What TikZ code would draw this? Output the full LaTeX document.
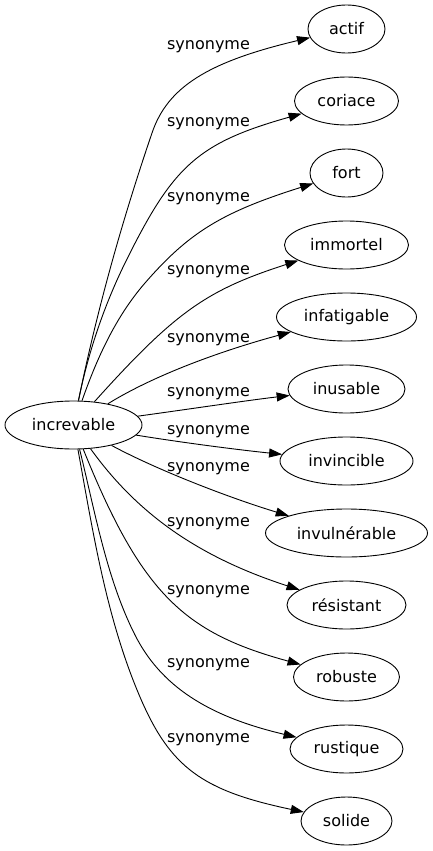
\documentclass[tikz,border=0pt]{standalone}
\usepackage{fontspec}
\setmainfont{DejaVu Sans}
\usetikzlibrary{shapes.geometric,arrows.meta}
\begin{document}
\begin{tikzpicture}[x=1bp,y=-1bp,
  word/.style={draw, ellipse, line width=0.9bp, minimum height=48bp, inner sep=0pt,
    font=\fontsize{16bp}{19bp}\selectfont},
  lab/.style={anchor=base, inner sep=0pt, font=\fontsize{16bp}{19bp}\selectfont},
  syn/.style={line width=0.9bp, -{Triangle[length=13bp,width=9bp]}}]
\useasboundingbox (0,0) rectangle (432,851);
% nodes
\node[word, minimum width=137bp] (inc) at (73.5,425) {increvable};
\node[word, minimum width=77bp]  (actif) at (346.5,29) {actif};
\node[word, minimum width=104bp] (coriace) at (346.5,101) {coriace};
\node[word, minimum width=73bp]  (fort) at (346.5,173) {fort};
\node[word, minimum width=124bp] (immortel) at (346.5,245) {immortel};
\node[word, minimum width=140bp] (infatigable) at (346.5,317) {infatigable};
\node[word, minimum width=117bp] (inusable) at (346.5,389) {inusable};
\node[word, minimum width=133bp] (invincible) at (346.5,461) {invincible};
\node[word, minimum width=162bp] (invul) at (346.5,533) {invulnérable};
\node[word, minimum width=119bp] (resistant) at (346.5,605) {résistant};
\node[word, minimum width=106bp] (robuste) at (346.5,677) {robuste};
\node[word, minimum width=113bp] (rustique) at (346.5,749) {rustique};
\node[word, minimum width=91bp]  (solide) at (346.5,821) {solide};
% labels
\node[lab] (l1) at (208.5,49.5) {synonyme};
\node[lab] (l2) at (208.5,126.5) {synonyme};
\node[lab] (l3) at (208.5,201.5) {synonyme};
\node[lab] (l4) at (208.5,274.5) {synonyme};
\node[lab] (l5) at (208.5,342.5) {synonyme};
\node[lab] (l6) at (208.5,396.5) {synonyme};
\node[lab] (l7) at (208.5,434.5) {synonyme};
\node[lab] (l8) at (208.5,471.5) {synonyme};
\node[lab] (l9) at (208.5,526.5) {synonyme};
\node[lab] (l10) at (208.5,594.5) {synonyme};
\node[lab] (l11) at (208.5,667.5) {synonyme};
\node[lab] (l12) at (208.5,742.5) {synonyme};
% knees
\coordinate (k1) at (152,133);
\coordinate (k2) at (128,257);
\coordinate (k3) at (145,283);
\coordinate (k11) at (135,635);
\coordinate (k12) at (140,697);
% edges
\draw[syn] (inc) .. controls (97,310) and (122,221) .. (k1) .. controls (167.4,87.5) and (207,62) .. (actif);
\draw[syn] (inc) .. controls (88.5,351) and (105,302.6) .. (k2) .. controls (174,165) and (199,142.6) .. (coriace);
\draw[syn] (inc) .. controls (96.7,358.8) and (115.5,317) .. (k3) .. controls (189,232.4) and (222,212.2) .. (fort);
\draw[syn] (inc) .. controls (176,311) and (207,290) .. (immortel);
\draw[syn] (inc) .. controls (161,371) and (235,347) .. (infatigable);
\draw[syn] (inc) .. controls (190,409) and (250,400) .. (inusable);
\draw[syn] (inc) .. controls (185,443) and (240,450) .. (invincible);
\draw[syn] (inc) .. controls (161,472) and (236,500) .. (invul);
\draw[syn] (inc) .. controls (138,514.8) and (199.6,557.4) .. (resistant);
\draw[syn] (inc) .. controls (142,595) and (185,633) .. (robuste);
\draw[syn] (inc) .. controls (95,511) and (106.2,578) .. (k11) .. controls (160.6,685.6) and (207.2,716.2) .. (rustique);
\draw[syn] (inc) .. controls (93,532.3) and (106.5,618.9) .. (k12) .. controls (170.2,767.5) and (202.1,790.7) .. (solide);
\end{tikzpicture}
\end{document}
